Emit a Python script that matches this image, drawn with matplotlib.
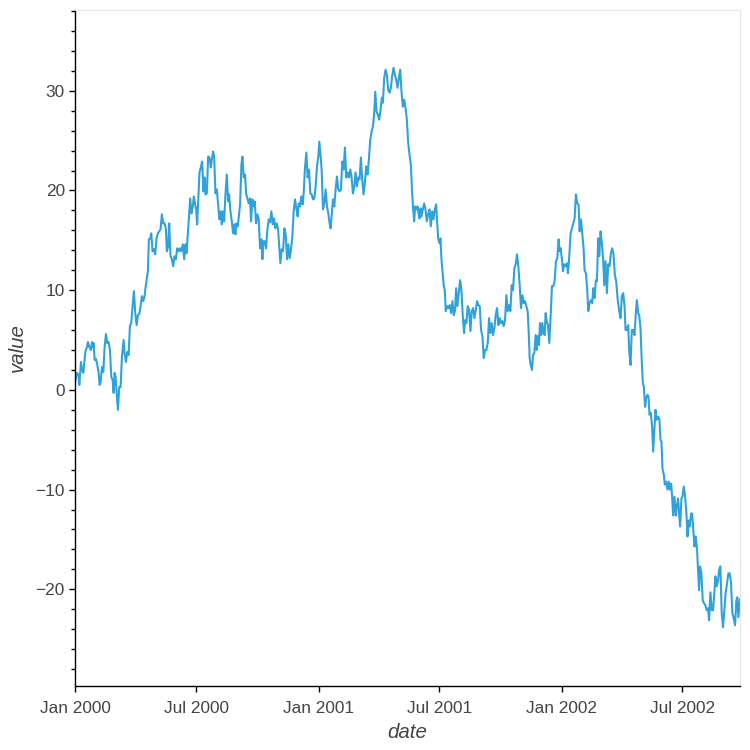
import numpy as np
import pandas as pd
import matplotlib
matplotlib.use("Agg")
import matplotlib.pyplot as plt
import matplotlib.dates as mdates
from matplotlib.ticker import MultipleLocator

# values: days since 2000-01-01 and value
days_1 = [0, 3, 5.5, 6.5, 9, 10.5, 12.5, 14, 15.5, 18,
          19.5, 21.5, 24, 25.5, 27, 28, 29.5, 31.5, 33.5, 35.5,
          37, 38.5, 40.5, 42.5, 44.5, 46.5, 48.5, 50.5, 52.5, 54.5,
          56.5, 58, 59.5, 61, 63, 64.5, 66.5, 68.5, 70.5, 72,
          73, 74.5, 76.5, 78.5, 80.5, 82.5, 84.5, 86.5, 88.5, 90.5,
          92.5, 94.5, 96.5, 98.5, 100.5, 102.5, 104.5, 105.5, 107.5, 109.5,
          111, 113, 114.5, 116.5, 118.5, 120.5, 122.5, 124.5, 126.5, 128.5,
          130.5, 132.5, 134.5, 136.5, 138, 140, 141.5, 143.5, 145.5, 147.5,
          149.5, 151.5, 153.5, 155.5, 157.5, 159.5]
vals_1 = [0.8, 1.7, 1.5, 0.5, 2.8, 2.0, 1.7, 2.7, 3.8, 4.3,
          4.8, 4.3, 4.0, 4.8, 4.3, 4.7, 3.0, 3.1, 2.5, 1.7,
          0.5, 0.8, 2.3, 1.8, 4.3, 5.6, 4.7, 4.8, 4.0, 1.3,
          1.0, -0.3, 1.7, 1.3, -0.7, -2.0, 0.3, 0.3, 3.3, 4.3,
          5.0, 3.7, 2.8, 3.8, 3.5, 6.4, 6.7, 8.4, 9.9, 7.7,
          6.5, 7.5, 7.6, 8.4, 9.4, 8.9, 9.4, 10.0, 11.0, 11.9,
          15.1, 15.2, 15.7, 13.9, 14.1, 13.6, 15.2, 15.7, 15.9, 16.1,
          17.6, 16.7, 16.7, 16.2, 13.9, 14.4, 16.7, 13.4, 13.1, 12.4,
          13.4, 13.1, 14.2, 13.9, 14.2, 13.9]

days_2 = [162, 164, 166, 167.5, 169.5, 171.5, 173, 175, 177, 178.5,
          180.5, 182, 183.5, 185.5, 187, 189, 191, 193, 194.5, 196,
          198, 200, 202, 204, 205.5, 207.5, 209, 211, 213, 215,
          217, 219, 220.5, 222, 224, 226, 228, 230, 231.5, 233.5,
          235.5, 237.5, 239.5, 241, 242.5, 244.5, 246.5, 248, 250, 251.5,
          253.5, 255.5, 257, 259, 261, 263, 264.5, 266.5, 268, 270,
          272, 274, 276, 278, 280, 281.5, 283, 285, 287, 289,
          291, 293, 295, 297, 299, 301, 303, 305, 307, 308.5,
          310.5, 312.5, 314.5, 316.5, 318.5, 320.5, 322.5, 324.5, 326.5, 328.5,
          330.5, 332.5, 334.5]
vals_2 = [14.6, 13.1, 14.6, 13.7, 15.6, 17.6, 19.2, 17.7, 18.4, 19.4,
          18.6, 18.1, 16.6, 19.6, 21.8, 22.3, 22.9, 19.9, 21.3, 19.6,
          19.7, 23.4, 23.3, 22.3, 23.1, 23.9, 23.4, 19.7, 20.1, 18.6,
          17.1, 17.9, 16.6, 17.9, 16.9, 19.6, 21.6, 18.9, 19.6, 17.9,
          16.9, 15.7, 16.6, 15.6, 16.7, 16.4, 17.6, 18.6, 22.6, 23.4,
          21.3, 21.6, 19.7, 19.2, 18.7, 19.2, 16.9, 19.1, 18.4, 18.9,
          16.7, 17.6, 17.1, 14.2, 15.1, 13.1, 14.9, 14.9, 14.2, 16.1,
          17.1, 16.8, 17.9, 16.6, 17.2, 16.2, 16.7, 16.2, 14.2, 12.7,
          14.1, 13.9, 16.2, 15.6, 13.1, 14.6, 13.2, 14.1, 15.4, 17.9,
          19.1, 18.2, 17.4]

days_3 = [336, 338, 340, 342, 343.5, 345.5, 347.5, 349.5, 351.5, 353.5,
          355.5, 357.5, 359.5, 361.5, 363.5, 365.5, 367, 369, 370.5, 372.5,
          374.5, 376.5, 378.5, 380.5, 382.5, 384, 386, 387.5, 389.5, 391.5,
          393.5, 395.5, 397.5, 399.5, 401.5, 403.5, 405.5, 407.5, 409.5, 411.5,
          413.5, 415.5, 417.5, 419.5, 421.5, 423.5, 425.5, 427.5, 429.5, 431.5,
          433.5, 435.5, 437.5, 439.5, 441.5, 443.5, 445.5, 447.5, 449.5, 451,
          453, 455, 457, 459, 461, 462.5, 464.5, 466.5, 468.5, 470.5,
          472.5, 474.5, 476.5, 478.5, 480.5, 482.5, 484.5, 486.5, 488.5, 490.5,
          492.5, 494.5, 496.5, 498.5, 500.5, 502.5, 504.5]
vals_3 = [18.7, 18.4, 19.4, 18.6, 19.7, 22.3, 23.8, 21.3, 22.1, 19.7,
          19.6, 19.1, 19.2, 20.4, 22.4, 23.4, 24.9, 23.4, 22.1, 18.1,
          18.7, 20.1, 18.4, 17.7, 16.7, 16.2, 17.9, 19.1, 18.4, 20.1,
          21.4, 20.1, 19.9, 20.1, 22.9, 22.1, 24.3, 21.3, 21.8, 21.3,
          22.1, 21.3, 19.7, 20.4, 21.8, 20.4, 21.3, 21.1, 23.3, 21.1,
          19.6, 20.8, 22.4, 21.6, 23.1, 25.1, 25.9, 26.4, 27.8, 29.9,
          27.9, 27.6, 27.1, 28.1, 29.3, 28.8, 31.3, 32.1, 31.6, 30.1,
          29.8, 30.3, 31.5, 32.3, 31.6, 31.1, 30.3, 31.3, 32.1, 29.9,
          28.4, 29.1, 28.3, 27.1, 24.8, 23.6, 22.6]

days_4 = [506.5, 508, 509.5, 511, 513, 514.5, 516, 517.5, 519, 520.5,
          522.5, 524.5, 526.5, 528.5, 530.5, 532.5, 534.5, 536.5, 538.5, 540.5,
          542.5, 544, 545.5, 547.5, 549, 550.5, 552.5, 554, 555.5, 557,
          559, 561, 563, 565, 567, 569, 571, 572.5, 574.5, 576.5,
          578.5, 580.5, 582.5, 584.5, 586, 588, 590, 592, 594, 596,
          598, 600, 602, 604, 606, 608, 610, 612, 614, 616,
          618, 620, 622, 624, 626, 628, 630, 632, 634, 636,
          638, 640, 642, 644, 646, 648, 650, 652, 654, 656,
          658, 660, 662, 664, 666, 668, 670, 672, 674, 676]
vals_4 = [19.7, 18.1, 16.9, 18.4, 18.1, 18.4, 17.7, 17.2, 18.2, 17.4,
          18.1, 18.7, 18.1, 16.9, 17.6, 18.1, 16.4, 17.9, 17.1, 18.1,
          18.6, 16.9, 15.2, 14.7, 15.2, 13.1, 11.5, 10.4, 10.0, 7.9,
          8.4, 8.2, 8.5, 7.7, 8.9, 7.5, 8.0, 10.2, 8.4, 9.7,
          11.0, 10.0, 7.4, 5.7, 7.0, 6.7, 8.4, 8.0, 5.9, 7.9,
          8.2, 7.2, 8.0, 8.9, 8.5, 8.4, 6.0, 5.4, 3.2, 4.0,
          4.0, 4.7, 7.2, 5.7, 6.7, 5.5, 6.2, 7.5, 8.2, 6.5,
          7.2, 6.7, 6.9, 6.4, 7.0, 9.5, 7.9, 8.5, 7.9, 10.5,
          10.0, 12.2, 12.6, 13.6, 12.4, 10.5, 8.2, 9.5, 8.7, 8.9]

days_5 = [680, 681.5, 683, 684.5, 686.5, 688, 690, 692, 693.5, 695,
          697, 698.5, 700.5, 702, 704, 705.5, 707, 708.5, 710.5, 712.5,
          714.5, 716.5, 718.5, 720.5, 722.5, 724.5, 726.5, 728, 729.5, 731.5,
          733, 735, 737, 739, 740.5, 742.5, 744.5, 746.5, 748.5, 750.5,
          752.5, 754.5, 756.5, 758, 760, 762, 764, 765.5, 767.5, 769.5,
          771, 773, 775, 777, 778.5, 780.5, 782.5, 784, 786, 787.5,
          789.5, 791.5, 793.5, 795, 797, 799, 801, 803, 805, 807,
          809, 811, 813, 815]
vals_5 = [7.9, 5.9, 3.2, 2.5, 2.0, 3.5, 3.7, 5.5, 4.0, 5.4,
          4.5, 6.7, 5.5, 6.7, 5.7, 5.5, 7.7, 6.9, 6.5, 4.7,
          7.4, 10.4, 10.4, 10.9, 12.9, 13.2, 15.1, 13.9, 14.2, 13.1,
          11.9, 12.6, 12.4, 12.7, 11.7, 13.4, 15.7, 16.2, 16.7, 17.2,
          19.6, 18.7, 18.6, 15.9, 17.1, 15.6, 14.2, 12.0, 11.7, 10.0,
          7.9, 8.7, 9.0, 8.7, 10.2, 9.2, 11.0, 10.9, 15.2, 13.4,
          15.9, 14.7, 12.9, 10.5, 12.9, 9.7, 12.6, 12.4, 13.7, 14.2,
          13.6, 11.5, 10.9, 9.2]

days_6 = [817.5, 819.5, 821.5, 823.5, 825.5, 827, 829, 831, 832.5, 834.5,
          836.5, 838.5, 840.5, 842.5, 844, 846, 847.5, 849.5, 851, 853,
          854.5, 856.5, 858, 860, 861.5, 863, 865, 867, 868.5, 870.5,
          872, 874, 876, 878, 879.5, 881, 882.5, 884.5, 886, 888,
          890, 892, 893.5, 895.5, 897, 898.5, 900.5, 902.5, 904, 906,
          907.5, 909, 911, 912.5, 914.5, 916.5, 918.5, 920, 922, 923.5,
          925.5, 927, 928.5, 930.5, 932.5, 934.5, 936, 937.5, 939, 941,
          943, 945, 947, 949, 951, 952.5, 954.5, 956.5, 958.5, 960.5,
          962, 964, 966, 967.5, 969.5, 971.5, 973.5, 975.5, 977.5, 979.5,
          981.5, 983.5, 985.5, 987.5, 989.5, 991.5, 993.5, 995, 996.5, 999]
vals_6 = [7.9, 7.2, 9.4, 9.7, 8.4, 6.0, 6.0, 6.5, 4.0, 2.5,
          6.0, 6.0, 5.5, 7.7, 9.0, 7.7, 7.5, 6.2, 3.5, 0.7,
          0.3, -1.7, -0.8, -0.5, -0.7, -2.5, -2.3, -3.8, -6.2, -3.7,
          -2.0, -3.0, -2.7, -3.0, -5.0, -5.2, -7.9, -8.5, -9.5, -9.2,
          -10.0, -9.2, -10.0, -9.4, -10.7, -12.6, -10.7, -12.6, -11.7, -10.9,
          -12.4, -13.7, -10.9, -10.7, -9.7, -10.7, -12.4, -14.7, -13.1, -13.7,
          -12.4, -12.4, -13.7, -15.7, -14.7, -16.1, -18.1, -20.1, -17.7, -18.4,
          -21.1, -21.4, -21.6, -22.1, -21.9, -23.1, -20.3, -22.1, -22.1, -20.3,
          -18.7, -19.7, -19.1, -18.1, -17.7, -22.4, -23.8, -22.1, -20.3, -19.4,
          -18.4, -18.4, -19.4, -22.4, -22.9, -23.6, -21.1, -20.8, -22.8, -21.0]

days = days_1 + days_2 + days_3 + days_4 + days_5 + days_6
values = vals_1 + vals_2 + vals_3 + vals_4 + vals_5 + vals_6
assert len(days) == len(values)

start = pd.Timestamp("2000-01-01")
dates = start + pd.to_timedelta(days, unit="D")

plt.rcParams['font.family'] = ['Liberation Sans', 'DejaVu Sans']

fig = plt.figure(figsize=(7.5, 7.5), dpi=100)
ax = fig.add_axes([0.1, 0.0853, 0.8867, 0.9014])

ax.plot(dates, values, color='#30a2da', linewidth=1.5)

ax.set_xlim(start, start + pd.Timedelta(days=999))
ax.set_ylim(-29.7, 38.1)

ax.xaxis.set_major_locator(mdates.MonthLocator(bymonth=[1, 7]))
ax.xaxis.set_major_formatter(mdates.DateFormatter('%b %Y'))
ax.yaxis.set_major_locator(MultipleLocator(10))
ax.yaxis.set_minor_locator(MultipleLocator(2))

for s in ['top', 'right']:
    ax.spines[s].set_color('#e5e5e5')
for s in ['left', 'bottom']:
    ax.spines[s].set_color('black')
    ax.spines[s].set_linewidth(1)

ax.tick_params(axis='both', which='major', direction='out', length=4.3,
               width=1, colors='black', labelcolor='#444444', labelsize=12.4)
ax.tick_params(axis='x', which='major', pad=6.5)
ax.tick_params(axis='y', which='major', pad=3)
ax.tick_params(axis='y', which='minor', direction='out', length=2.9, width=1,
               colors='black')

ax.set_xlabel('date', fontsize=14.8, style='italic', color='#444444', labelpad=5)
ax.set_ylabel('value', fontsize=14.8, style='italic', color='#444444', labelpad=6)

fig.savefig('out.png', dpi=100)
